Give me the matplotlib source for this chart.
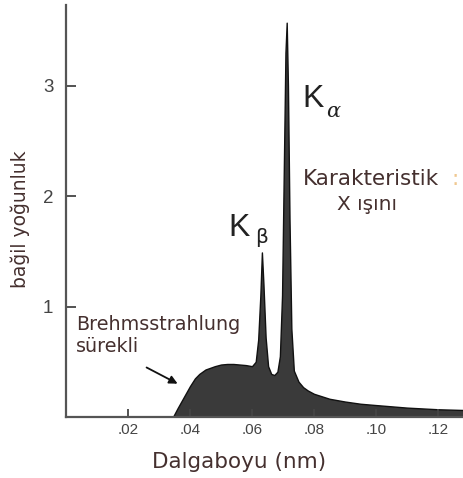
import matplotlib
matplotlib.use("Agg")
import matplotlib.pyplot as plt

# Wavelength (nm) and relative intensity
wavelength = [0.0345, 0.0360, 0.0380, 0.0400, 0.0416, 0.0430, 0.0450, 0.0480,
              0.0500, 0.0520, 0.0540, 0.0560, 0.0580, 0.0600, 0.0612, 0.0620,
              0.0627, 0.0632, 0.0637, 0.0644, 0.0652, 0.0662, 0.0672, 0.0682,
              0.0690, 0.0697, 0.0703, 0.0708, 0.0712, 0.0716, 0.0721, 0.0727,
              0.0735, 0.0750, 0.0765, 0.0780, 0.0800, 0.0850, 0.0900, 0.0950,
              0.1000, 0.1100, 0.1200, 0.1300]
intensity = [0.00, 0.08, 0.18, 0.28, 0.35, 0.39, 0.43, 0.46,
             0.475, 0.48, 0.48, 0.475, 0.47, 0.46, 0.50, 0.70,
             1.10, 1.49, 1.20, 0.72, 0.46, 0.39, 0.38, 0.41,
             0.55, 1.10, 2.30, 3.30, 3.57, 3.00, 1.80, 0.80,
             0.42, 0.32, 0.27, 0.24, 0.21, 0.165, 0.14, 0.12,
             0.108, 0.085, 0.07, 0.062]

xticks = [0.02, 0.04, 0.06, 0.08, 0.10, 0.12]
xtick_labels = [".02", ".04", ".06", ".08", ".10", ".12"]
yticks = [1, 2, 3]
ytick_labels = ["1", "2", "3"]

fig = plt.figure(figsize=(4.64, 4.78), dpi=100)
ax = fig.add_axes([66/464, 1 - 417/478, 1 - 66/464, (417 - 5)/478])

ax.fill_between(wavelength, intensity, 0, color="#3a3a3a", edgecolor="#111111", linewidth=1.0)
ax.set_xlim(0.0, 0.1284)
ax.set_ylim(0, 3.73)

for s in ["top", "right"]:
    ax.spines[s].set_visible(False)
for s in ["left", "bottom"]:
    ax.spines[s].set_color("#555555")
    ax.spines[s].set_linewidth(1.6)

ax.set_xticks(xticks)
ax.set_xticklabels(xtick_labels, family="Liberation Sans", fontsize=11, color="#444444")
ax.set_yticks(yticks)
ax.set_yticklabels(ytick_labels, family="Liberation Sans", fontsize=13.5, color="#444444")
ax.tick_params(axis="both", direction="in", color="#444444", width=1.3)
ax.tick_params(axis="y", length=7.5, pad=9)
ax.tick_params(axis="x", length=5.5, pad=4)

txt_color = "#45302f"
fam = "DejaVu Sans"
# K alpha
ax.text(0.0761, 2.805, "K", family="Liberation Sans", fontsize=23,
        color="#222222", ha="left", va="baseline")
ax.text(0.0838, 2.715, "α", family="DejaVu Serif", style="italic", fontsize=15,
        color="#222222", ha="left", va="baseline")
# K beta
ax.text(0.0523, 1.638, "K", family="Liberation Sans", fontsize=23,
        color="#222222", ha="left", va="baseline")
ax.text(0.0611, 1.575, "β", family="DejaVu Sans", fontsize=14.5,
        color="#222222", ha="left", va="baseline")

ax.text(0.0765, 2.10, "Karakteristik", family=fam, fontsize=15.5,
        color=txt_color, ha="left", va="baseline")
ax.text(0.1243, 2.10, ":", family=fam, fontsize=15.5,
        color="#f0c890", ha="left", va="baseline")
ax.text(0.0874, 1.873, "X ışını", family=fam, fontsize=14.5,
        color=txt_color, ha="left", va="baseline")
ax.text(0.0032, 0.787, "Brehmsstrahlung", family=fam, fontsize=13.8,
        color=txt_color, ha="left", va="baseline")
ax.text(0.0032, 0.588, "sürekli", family=fam, fontsize=13.8,
        color=txt_color, ha="left", va="baseline")
ax.annotate("", xy=(0.0368, 0.29), xytext=(0.0252, 0.46),
            arrowprops=dict(arrowstyle="-|>", color="#111111", lw=1.3,
                            mutation_scale=12))

fig.text(20/464, 1 - 219/478, "bağil yoğunluk", family=fam, fontsize=13.5,
         color=txt_color, rotation=90, ha="center", va="center")
fig.text(239/464, 1 - 462/478, "Dalgaboyu (nm)", family=fam, fontsize=15.5,
         color=txt_color, ha="center", va="center")

fig.savefig("out.png", dpi=100)
